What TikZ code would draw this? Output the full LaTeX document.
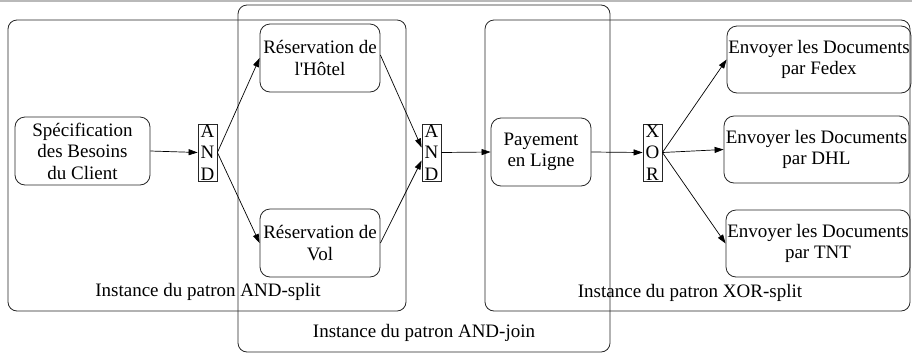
\documentclass[tikz,border=0pt]{standalone}
\usepackage{fontspec}
\setmainfont{Liberation Serif}[Ligatures=TeXOff]
\usetikzlibrary{arrows.meta}
\begin{document}
\begin{tikzpicture}[x=1pt,y=-1pt,
  font=\fontsize{19}{21.5}\selectfont,
  task/.style={draw=black!85, line width=0.8pt, rounded corners=10pt,
    align=center, inner sep=0pt},
  gate/.style={draw=black!85, line width=0.8pt, inner sep=0pt,
    minimum width=19pt, minimum height=57pt, align=center,
    font=\fontsize{19}{21.5}\selectfont},
  group/.style={draw=black!85, line width=0.8pt, rounded corners=9pt},
  flow/.style={-{Triangle[length=9pt,width=6pt]}, line width=0.7pt, black},
  caption/.style={inner sep=0pt}]
\useasboundingbox (0,0) rectangle (912,354);
\draw[gray!55, line width=1.5pt] (0,0.75) -- (912,0.75);

% pattern groups
\draw[group] (8,20) rectangle (406,311);
\draw[group] (238,5) rectangle (610,352);
\draw[group] (485,20) rectangle (910,311);
\node[caption] (capsplit) at (208,292) {Instance du patron AND-split};
\node[caption] (capjoin) at (424,333) {Instance du patron AND-join};
\node[caption] (capxor) at (690,293) {Instance du patron XOR-split};

% tasks
\node[task, minimum width=135pt, minimum height=68pt] (spec) at (82.5,151)
  {Spécification\\des Besoins\\du Client};
\node[task, minimum width=120pt, minimum height=68pt] (hotel) at (320,58)
  {Réservation de\\l'Hôtel};
\node[task, minimum width=120pt, minimum height=68pt] (vol) at (320,243)
  {Réservation de\\Vol};
\node[task, minimum width=100pt, minimum height=68pt] (pay) at (541,152)
  {Payement\\en Ligne};
\node[task, minimum width=184pt, minimum height=67pt] (fedex) at (819,59.5)
  {Envoyer les Documents\\par Fedex};
\node[task, minimum width=185pt, minimum height=67pt] (dhl) at (816.5,149.5)
  {Envoyer les Documents\\par DHL};
\node[task, minimum width=184pt, minimum height=67pt] (tnt) at (818,243.5)
  {Envoyer les Documents\\par TNT};

% gateways
\node[gate] (and1) at (207.5,152.5) {A\\N\\D};
\node[gate] (and2) at (431.5,152.5) {A\\N\\D};
\node[gate] (xor) at (652.5,152.5) {X\\O\\R};

% connectors
\draw[flow] (spec.east) -- (and1.west);
\draw[flow] (and1.east) -- (hotel.west);
\draw[flow] (and1.east) -- (vol.west);
\draw[flow] ([yshift=3pt]hotel.east) -- ([yshift=5pt]and2.west);
\draw[flow] (vol.east) -- ([yshift=-8pt]and2.west);
\draw[flow] (and2.east) -- (pay.west);
\draw[flow] (pay.east) -- (xor.west);
\draw[flow] (xor.east) -- (fedex.west);
\draw[flow] (xor.east) -- (dhl.west);
\draw[flow] (xor.east) -- (tnt.west);
\end{tikzpicture}
\end{document}
